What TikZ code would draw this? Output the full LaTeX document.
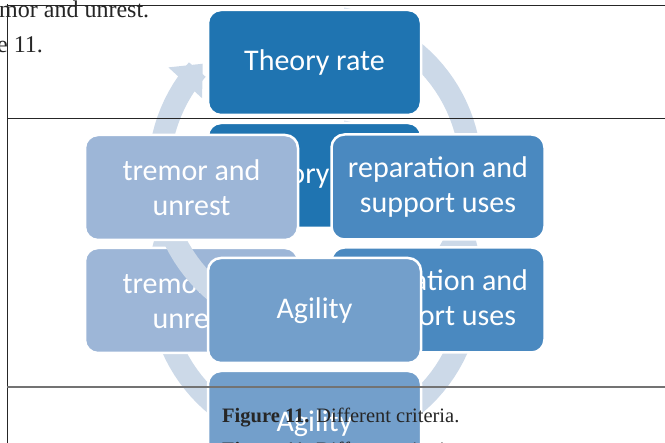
\documentclass[tikz,border=0pt]{standalone}
\usepackage{fontspec}
\setmainfont{Liberation Serif}
\newfontfamily\boxfont{Carlito}
\usetikzlibrary{arrows.meta}
\definecolor{ringblue}{HTML}{CCD9E8}
\definecolor{theoryblue}{HTML}{1F74B1}
\definecolor{repblue}{HTML}{4A89C0}
\definecolor{agileblue}{HTML}{739FCB}
\definecolor{tremblue}{HTML}{9DB6D7}

\begin{document}
\begin{tikzpicture}[x=1pt,y=-1pt,
  cyclebox/.style={draw=white,line width=2.5pt,rounded corners=13pt,
    minimum width=213pt,minimum height=105pt,inner sep=0pt,
    text=white,align=center,font=\boxfont\fontsize{30}{35}\selectfont},
  ringarc/.style={ringblue,line width=22pt,
    -{Triangle[width=44pt,length=26pt]}},
  pageline/.style={line width=1pt,black!85},
  pagetext/.style={anchor=base west,inner sep=0pt,text=black!85}]
\useasboundingbox (0,0) rectangle (665,443);
\clip (0,0) rectangle (665,443);
% lower copy of the cycle
\draw[ringarc] plot[domain=-80:224,samples=100] ({315+156*cos(\x)},{285+156*sin(\x)});
\node[cyclebox,fill=agileblue] (agilityB) at (314.5,423.5) {Agility};
\node[cyclebox,fill=theoryblue] (theoryB) at (314.5,175.5) {Theory rate};
\node[cyclebox,fill=tremblue] (tremorB) at (191.5,300.5) {tremor and\\unrest};
% upper copy of the cycle
\draw[ringarc] plot[domain=-80:224,samples=100] ({315+156*cos(\x)},{172+156*sin(\x)});
\node[cyclebox,fill=repblue] (reparationB) at (438,300) {reparation and\\support uses};
\node[cyclebox,fill=theoryblue] (theoryA) at (314.5,62.5) {Theory rate};
\node[cyclebox,fill=tremblue] (tremorA) at (191.5,187.5) {tremor and\\unrest};
\node[cyclebox,fill=repblue] (reparationA) at (438,187) {reparation and\\support uses};
\node[cyclebox,fill=agileblue] (agilityA) at (314.5,310.5) {Agility};
% page frame
\draw[pageline] (7,4) -- (7,443);
\draw[pageline] (7,6) -- (665,6);
\draw[pageline] (7,119) -- (665,119);
\draw[line width=1.5pt,black!55] (7,387) -- (665,387);
% page text
\node[pagetext,font=\fontsize{24}{28}\selectfont] (bodyA) at (-1,18) {mor and unrest.};
\node[pagetext,font=\fontsize{24}{28}\selectfont] (bodyB) at (-3,53) {e 11.};
\node[pagetext,font=\fontsize{20.5}{24}\selectfont] (captionA) at (222,423) {\textbf{Figure 11.} Different criteria.};
\node[pagetext,font=\fontsize{20.5}{24}\selectfont] (captionB) at (222,457) {\textbf{Figure 11.} Different criteria.};
\end{tikzpicture}
\end{document}
